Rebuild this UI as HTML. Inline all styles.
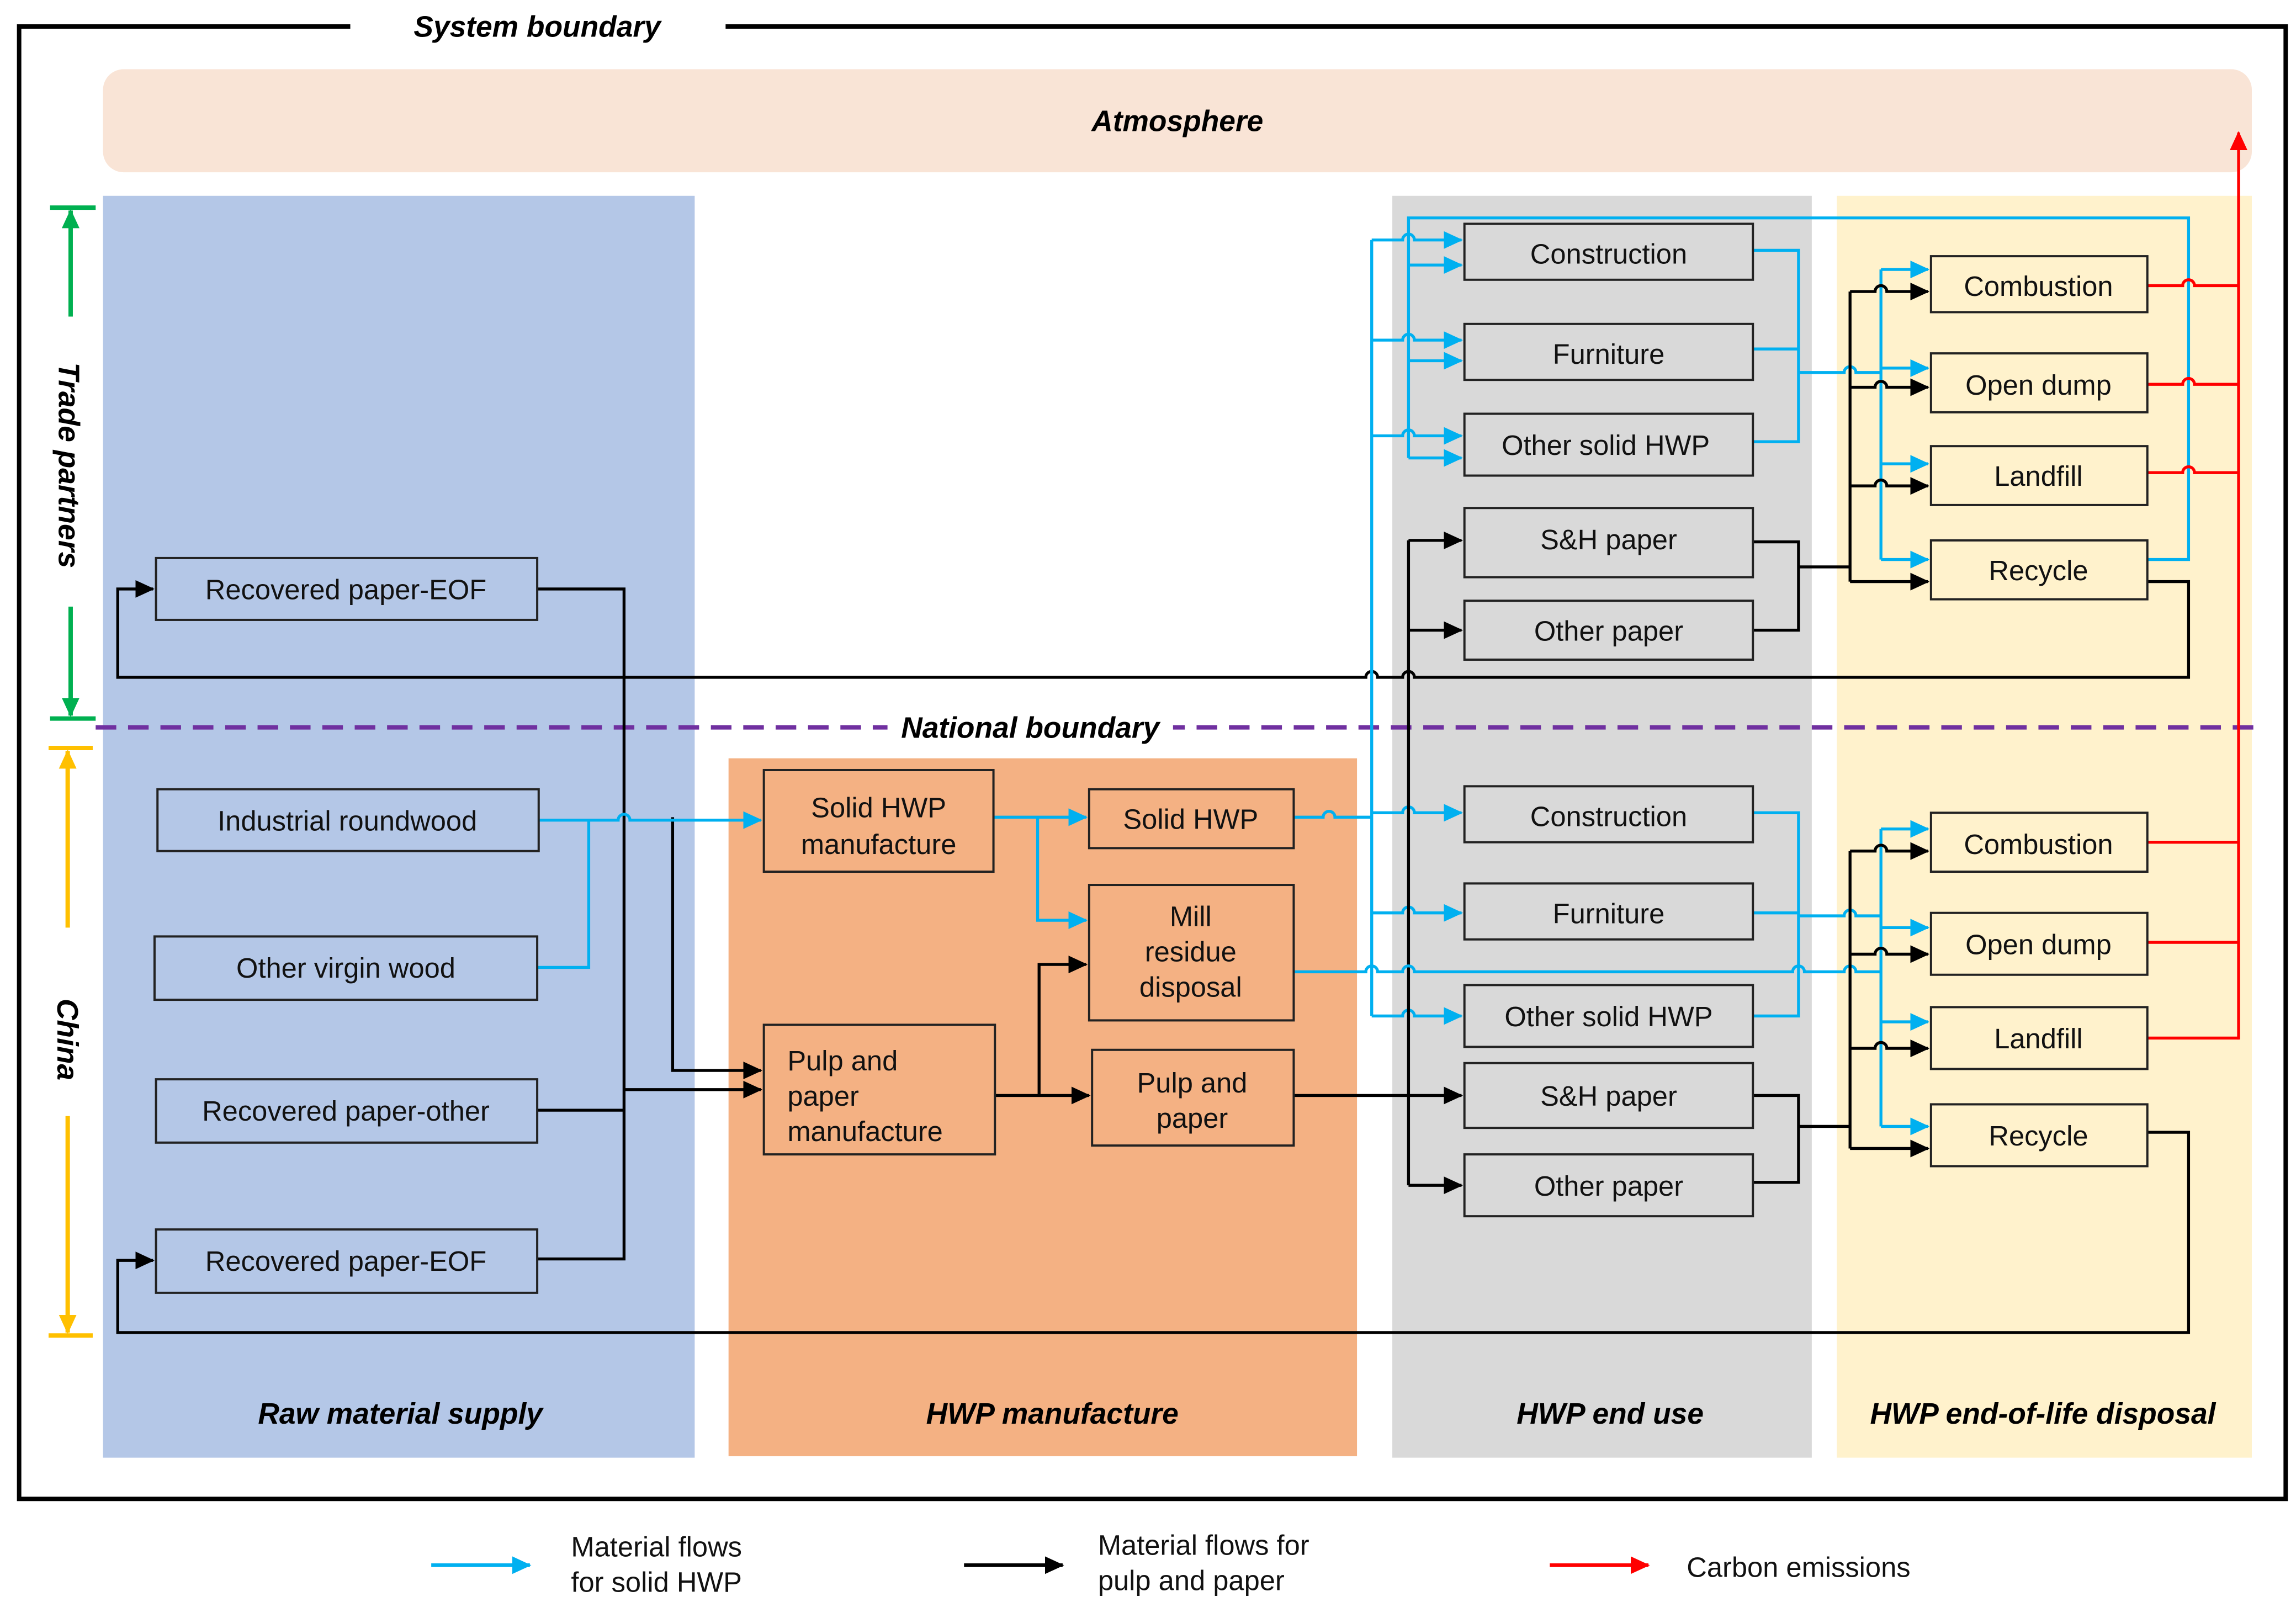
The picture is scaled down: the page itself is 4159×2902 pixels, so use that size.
<!DOCTYPE html>
<html><head><meta charset="utf-8"><style>html,body{margin:0;padding:0;background:#fff}svg{display:block}</style></head>
<body>
<svg width="4159" height="2902" viewBox="0 0 1560 1088" preserveAspectRatio="none" xmlns="http://www.w3.org/2000/svg" font-family="Liberation Sans, Arial, sans-serif">
<defs>
<marker id="ab" markerUnits="userSpaceOnUse" markerWidth="14" markerHeight="14" refX="12" refY="7" orient="auto"><path d="M0,1 L13,7 L0,13 z" fill="#00b0f0"/></marker>
<marker id="ak" markerUnits="userSpaceOnUse" markerWidth="14" markerHeight="14" refX="12" refY="7" orient="auto"><path d="M0,1 L13,7 L0,13 z" fill="#000"/></marker>
<marker id="ar" markerUnits="userSpaceOnUse" markerWidth="14" markerHeight="14" refX="12" refY="7" orient="auto"><path d="M0,1 L13,7 L0,13 z" fill="#f00"/></marker>
<marker id="ag" markerUnits="userSpaceOnUse" markerWidth="14" markerHeight="14" refX="12" refY="7" orient="auto"><path d="M0,1 L13,7 L0,13 z" fill="#00b050"/></marker>
<marker id="ay" markerUnits="userSpaceOnUse" markerWidth="14" markerHeight="14" refX="12" refY="7" orient="auto"><path d="M0,1 L13,7 L0,13 z" fill="#ffc000"/></marker>
</defs>
<!-- system boundary -->
<path d="M238,18 H13 V1018 H1553 V18 H493" fill="none" stroke="#000" stroke-width="3"/>
<text x="365" y="25" font-size="20" font-weight="bold" font-style="italic" text-anchor="middle">System boundary</text>
<rect x="70" y="47" width="1460" height="70" rx="14" fill="#f9e4d6"/>
<text x="800" y="89" font-size="20" font-weight="bold" font-style="italic" text-anchor="middle">Atmosphere</text>
<!-- columns -->
<rect x="70" y="133" width="402" height="857" fill="#b4c7e7"/>
<rect x="495" y="515" width="427" height="474" fill="#f4b183"/>
<rect x="946" y="133" width="285" height="857" fill="#d9d9d9"/>
<rect x="1248" y="133" width="282" height="857" fill="#fff2cc"/>
<g font-size="20" font-weight="bold" font-style="italic" text-anchor="middle">
<text x="272" y="967">Raw material supply</text>
<text x="715" y="967">HWP manufacture</text>
<text x="1094" y="967">HWP end use</text>
<text x="1388" y="967">HWP end-of-life disposal</text>
</g>
<!-- national boundary -->
<line x1="65" y1="494" x2="1533" y2="494" stroke="#7030a0" stroke-width="3" stroke-dasharray="14,8"/>
<rect x="603" y="482" width="194" height="24" fill="#fff"/>
<text x="700" y="501" font-size="20" font-weight="bold" font-style="italic" text-anchor="middle">National boundary</text>
<!-- trade partners / china -->
<g stroke="#00b050" stroke-width="3"><line x1="34" y1="141" x2="65" y2="141"/><line x1="34" y1="488" x2="65" y2="488"/>
<line x1="48" y1="215" x2="48" y2="143" marker-end="url(#ag)"/><line x1="48" y1="412" x2="48" y2="486" marker-end="url(#ag)"/></g>
<text transform="translate(40,316) rotate(90)" font-size="20" font-weight="bold" font-style="italic" text-anchor="middle">Trade partners</text>
<g stroke="#ffc000" stroke-width="3"><line x1="33" y1="508" x2="63" y2="508"/><line x1="33" y1="907" x2="63" y2="907"/>
<line x1="46" y1="630" x2="46" y2="510" marker-end="url(#ay)"/><line x1="46" y1="758" x2="46" y2="905" marker-end="url(#ay)"/></g>
<text transform="translate(39,706) rotate(90)" font-size="20" font-weight="bold" font-style="italic" text-anchor="middle">China</text>

<!-- connectors -->
<g fill="none" stroke-width="2">
<!-- left black -->
<path d="M365,400 H424 V855 H365" stroke="#000"/>
<path d="M365,754 H424"/>
<path d="M365,754 H424 M424,740 H517" stroke="#000" marker-end="url(#ak)"/>
<path d="M457,555 V727 H517" stroke="#000" marker-end="url(#ak)"/>
<path d="M1459,395 H1487 V460 H961 a4,4 0 0 0 -8,0 H936 a4,4 0 0 0 -8,0 H80 V400 H104" stroke="#000" marker-end="url(#ak)"/>
<path d="M1459,769 H1487 V905 H80 V856 H104" stroke="#000" marker-end="url(#ak)"/>
<!-- left blue -->
<path d="M366,557 H420 a4,4 0 0 1 8,0 H517" stroke="#00b0f0" marker-end="url(#ab)"/>
<path d="M365,657 H400 V557" stroke="#00b0f0"/>
<!-- manufacture -->
<path d="M675,555 H738" stroke="#00b0f0" marker-end="url(#ab)"/>
<path d="M705,555 V625 H738" stroke="#00b0f0" marker-end="url(#ab)"/>
<path d="M676,744 H740" stroke="#000" marker-end="url(#ak)"/>
<path d="M706,744 V655 H738" stroke="#000" marker-end="url(#ak)"/>
<path d="M879,744 H993" stroke="#000" marker-end="url(#ak)"/>
<path d="M879,555 H899 a4,4 0 0 1 8,0 H932" stroke="#00b0f0"/>
<!-- blue vertical 932 -->
<path d="M932,690 V163" stroke="#00b0f0"/>
<g stroke="#00b0f0" marker-end="url(#ab)">
<path d="M932,163 H953 a4,4 0 0 1 8,0 H993"/>
<path d="M932,231 H953 a4,4 0 0 1 8,0 H993"/>
<path d="M932,296 H953 a4,4 0 0 1 8,0 H993"/>
<path d="M932,552 H953 a4,4 0 0 1 8,0 H993"/>
<path d="M932,620 H953 a4,4 0 0 1 8,0 H993"/>
<path d="M932,690 H953 a4,4 0 0 1 8,0 H993"/>
<path d="M957,180 H993"/><path d="M957,245 H993"/><path d="M957,311 H993"/>
</g>
<path d="M957,311 V148 H1487 V380 H1459" stroke="#00b0f0"/>
<!-- black vertical 957 -->
<path d="M957,805 V367" stroke="#000"/>
<g stroke="#000" marker-end="url(#ak)">
<path d="M957,367 H993"/><path d="M957,428 H993"/><path d="M957,805 H993"/>
</g>
<!-- upper end-use outputs -->
<path d="M1191,170 H1222 V300 H1191 M1191,237 H1222 M1222,253 H1253 a4,4 0 0 1 8,0 H1278" stroke="#00b0f0"/>
<path d="M1278,380 V183" stroke="#00b0f0"/>
<g stroke="#00b0f0" marker-end="url(#ab)"><path d="M1278,183 H1310"/><path d="M1278,250 H1310"/><path d="M1278,315 H1310"/><path d="M1278,380 H1310"/></g>
<path d="M1191,368 H1222 V428 H1191 M1222,385 H1257" stroke="#000"/>
<path d="M1257,395 V198" stroke="#000"/>
<g stroke="#000" marker-end="url(#ak)"><path d="M1257,198 H1274 a4,4 0 0 1 8,0 H1310"/><path d="M1257,263 H1274 a4,4 0 0 1 8,0 H1310"/><path d="M1257,330 H1274 a4,4 0 0 1 8,0 H1310"/><path d="M1257,395 H1310"/></g>
<!-- lower end-use outputs -->
<path d="M1191,552 H1222 V690 H1191 M1191,620 H1222 M1222,622 H1253 a4,4 0 0 1 8,0 H1278" stroke="#00b0f0"/>
<path d="M879,660 H928 a4,4 0 0 1 8,0 H953 a4,4 0 0 1 8,0 H1218 a4,4 0 0 1 8,0 H1253 a4,4 0 0 1 8,0 H1278" stroke="#00b0f0"/>
<path d="M1278,765 V563" stroke="#00b0f0"/>
<g stroke="#00b0f0" marker-end="url(#ab)"><path d="M1278,563 H1310"/><path d="M1278,630 H1310"/><path d="M1278,694 H1310"/><path d="M1278,765 H1310"/></g>
<path d="M1191,744 H1222 V803 H1191 M1222,765 H1257" stroke="#000"/>
<path d="M1257,780 V578" stroke="#000"/>
<g stroke="#000" marker-end="url(#ak)"><path d="M1257,578 H1274 a4,4 0 0 1 8,0 H1310"/><path d="M1257,648 H1274 a4,4 0 0 1 8,0 H1310"/><path d="M1257,712 H1274 a4,4 0 0 1 8,0 H1310"/><path d="M1257,780 H1310"/></g>
<!-- red -->
<path d="M1521,706 V90" stroke="#f00" marker-end="url(#ar)"/>
<g stroke="#f00">
<path d="M1459,194 H1483 a4,4 0 0 1 8,0 H1521"/>
<path d="M1459,261 H1483 a4,4 0 0 1 8,0 H1521"/>
<path d="M1459,321 H1483 a4,4 0 0 1 8,0 H1521"/>
<path d="M1459,572 H1521"/><path d="M1459,640 H1521"/><path d="M1459,705 H1521"/>
</g>
</g>

<!-- boxes -->
<g stroke="#222" stroke-width="1.5">
<g fill="#b4c7e7">
<rect x="106" y="379" width="259" height="42"/><rect x="107" y="536" width="259" height="42"/>
<rect x="105" y="636" width="260" height="43"/><rect x="106" y="733" width="259" height="43"/>
<rect x="106" y="835" width="259" height="43"/></g>
<g fill="#f4b183">
<rect x="519" y="523" width="156" height="69"/><rect x="519" y="696" width="157" height="88"/>
<rect x="740" y="536" width="139" height="40"/><rect x="740" y="601" width="139" height="92"/>
<rect x="742" y="713" width="137" height="65"/></g>
<g fill="#d9d9d9">
<rect x="995" y="152" width="196" height="38"/><rect x="995" y="220" width="196" height="38"/>
<rect x="995" y="281" width="196" height="42"/><rect x="995" y="345" width="196" height="47"/>
<rect x="995" y="408" width="196" height="40"/>
<rect x="995" y="534" width="196" height="38"/><rect x="995" y="600" width="196" height="38"/>
<rect x="995" y="669" width="196" height="42"/><rect x="995" y="722" width="196" height="44"/>
<rect x="995" y="784" width="196" height="42"/></g>
<g fill="#fff2cc">
<rect x="1312" y="174" width="147" height="38"/><rect x="1312" y="240" width="147" height="40"/>
<rect x="1312" y="303" width="147" height="40"/><rect x="1312" y="367" width="147" height="40"/>
<rect x="1312" y="552" width="147" height="40"/><rect x="1312" y="620" width="147" height="42"/>
<rect x="1312" y="684" width="147" height="42"/><rect x="1312" y="750" width="147" height="42"/></g>
</g>
<g font-size="19" text-anchor="middle" fill="#111">
<text x="235" y="407">Recovered paper-EOF</text>
<text x="236" y="564">Industrial roundwood</text>
<text x="235" y="664">Other virgin wood</text>
<text x="235" y="761">Recovered paper-other</text>
<text x="235" y="863">Recovered paper-EOF</text>
<text x="597" y="555">Solid HWP</text><text x="597" y="580">manufacture</text>
<text x="809" y="563">Solid HWP</text>
<text x="809" y="629">Mill</text><text x="809" y="653">residue</text><text x="809" y="677">disposal</text>
<text x="810" y="742">Pulp and</text><text x="810" y="766">paper</text>
<g text-anchor="start"><text x="535" y="727">Pulp and</text><text x="535" y="751">paper</text><text x="535" y="775">manufacture</text></g>
<text x="1093" y="179">Construction</text><text x="1093" y="247">Furniture</text>
<text x="1091" y="309">Other solid HWP</text><text x="1093" y="373">S&amp;H paper</text>
<text x="1093" y="435">Other paper</text>
<text x="1093" y="561">Construction</text><text x="1093" y="627">Furniture</text>
<text x="1093" y="697">Other solid HWP</text><text x="1093" y="751">S&amp;H paper</text>
<text x="1093" y="812">Other paper</text>
<text x="1385" y="201">Combustion</text><text x="1385" y="268">Open dump</text>
<text x="1385" y="330">Landfill</text><text x="1385" y="394">Recycle</text>
<text x="1385" y="580">Combustion</text><text x="1385" y="648">Open dump</text>
<text x="1385" y="712">Landfill</text><text x="1385" y="778">Recycle</text>
</g>
<!-- legend -->
<g stroke-width="2.5">
<line x1="293" y1="1063" x2="360" y2="1063" stroke="#00b0f0" marker-end="url(#ab)"/>
<line x1="655" y1="1063" x2="722" y2="1063" stroke="#000" marker-end="url(#ak)"/>
<line x1="1053" y1="1063" x2="1120" y2="1063" stroke="#f00" marker-end="url(#ar)"/>
</g>
<g font-size="19" fill="#111">
<text x="388" y="1057">Material flows</text><text x="388" y="1081">for solid HWP</text>
<text x="746" y="1056">Material flows for</text><text x="746" y="1080">pulp and paper</text>
<text x="1146" y="1071">Carbon emissions</text>
</g>
</svg>
</body></html>
